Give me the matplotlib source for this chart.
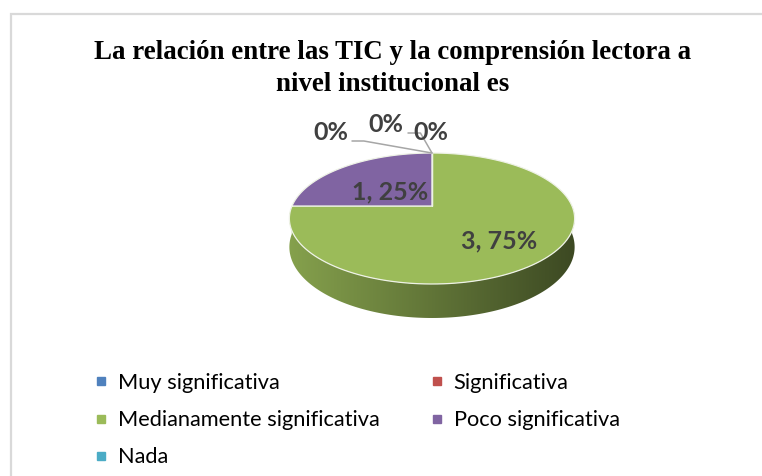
import numpy as np
import matplotlib
matplotlib.use("Agg")
import matplotlib.pyplot as plt
import matplotlib.transforms as mtransforms
from matplotlib.path import Path
from matplotlib.patches import Polygon
from matplotlib.lines import Line2D

# ---------------- data ----------------
categories = ["Muy significativa", "Significativa", "Medianamente significativa",
              "Poco significativa", "Nada"]
values = [0, 0, 3, 1, 0]
colors = ["#4F81BD", "#C0504D", "#9BBB59", "#8064A2", "#4BACC6"]
title = "La relación entre las TIC y la comprensión lectora a\nnivel institucional es"

# ---------------- layout ----------------
W, H = 762, 476
CX, CY = 432, 206          # pie apex in pixels
RX, RY = 140, 63.1         # projected radii
K = 0.191                  # perspective factor
DEPTH = 27.5               # thickness of the pie
label_r = [0, 0, 0.62, 0.45, 0]
label_dy = 5
zero_label_pos = [(331, 132), (386, 125), None, None, (431, 132)]


class Persp(mtransforms.Transform):
    input_dims = 2
    output_dims = 2
    is_separable = False
    has_inverse = False

    def __init__(self, drop=0.0):
        super().__init__()
        self.drop = drop

    def transform_non_affine(self, xy):
        xy = np.asarray(xy, float).reshape(-1, 2)
        u, v = xy[:, 0], xy[:, 1]
        d = 1 + K * v
        return np.column_stack([CX + RX * u / d, CY - RY * v / d + self.drop / d])

    def transform_path_non_affine(self, path):
        s = 1000.0
        polys = path.to_polygons(transform=mtransforms.Affine2D().scale(s),
                                 closed_only=False)
        verts, codes = [], []
        for p in polys:
            p = np.asarray(p) / s
            if len(p) == 0:
                continue
            verts.append(self.transform_non_affine(p))
            c = np.full(len(p), Path.LINETO, dtype=Path.code_type)
            c[0] = Path.MOVETO
            codes.append(c)
        if not verts:
            return Path(np.zeros((1, 2)))
        return Path(np.concatenate(verts), np.concatenate(codes))


fig = plt.figure(figsize=(W / 100, H / 100), dpi=100)
ax = fig.add_axes([0, 0, 1, 1])

wedges, _ = ax.pie(values, colors=colors, startangle=90, counterclock=False,
                   radius=1, center=(0, 0),
                   wedgeprops=dict(edgecolor="#eef2e6", linewidth=0.9))
for w in wedges:
    w.set_transform(Persp() + ax.transData)
    w.set_zorder(4)

# ---------------- 3D side walls ----------------
top_p = Persp(0.0)
bot_p = Persp(DEPTH)
for w, col in zip(wedges, colors):
    phi = np.linspace(w.theta1, w.theta2, 600)
    mask = np.sin(np.radians(phi)) <= 1e-9
    if mask.sum() < 3:
        continue
    idx = np.where(mask)[0]
    splits = np.split(idx, np.where(np.diff(idx) > 1)[0] + 1)
    for seg in splits:
        if len(seg) < 3:
            continue
        a = np.radians(phi[seg])
        pts = np.column_stack([np.cos(a), np.sin(a)])
        top = top_p.transform(pts)
        bot = bot_p.transform(pts)
        poly = np.vstack([top, bot[::-1]])
        patch = Polygon(poly, closed=True, facecolor="none", edgecolor="none",
                        transform=ax.transData, zorder=2)
        ax.add_patch(patch)
        x0, x1 = poly[:, 0].min(), poly[:, 0].max()
        y0, y1 = poly[:, 1].min(), poly[:, 1].max()
        xs = np.linspace(x0, x1, 300)
        full0, full1 = CX - RX * 1.02, CX + RX * 1.02
        f = 0.86 - 0.47 * (xs - full0) / (full1 - full0)
        base = np.array(matplotlib.colors.to_rgb(col))
        grad = np.clip(base[None, :] * f[:, None], 0, 1)[None, :, :]
        im = ax.imshow(grad, extent=[x0, x1, y1, y0], aspect="auto",
                       zorder=2, interpolation="bilinear")
        im.set_clip_path(patch)

# ---------------- labels ----------------
total = sum(values)
lab_font = dict(family=["Lato", "DejaVu Sans"], fontweight="bold", fontsize=18,
                color="#404040")
apex_top = top_p.transform([[0, 1]])[0]
for i, (w, v) in enumerate(zip(wedges, values)):
    pct = 100 * v / total
    if v > 0:
        mid = np.radians((w.theta1 + w.theta2) / 2)
        r = label_r[i]
        x, y = top_p.transform([[r * np.cos(mid), r * np.sin(mid)]])[0]
        ax.text(x, y + label_dy, f"{v}, {pct:.0f}%", ha="center", va="center",
                zorder=6, **lab_font)
    else:
        tx, ty = zero_label_pos[i]
        ax.text(tx, ty, f"{pct:.0f}%", ha="center", va="center", zorder=6,
                **lab_font)

# leader lines for the zero labels
ax.annotate("", xy=apex_top, xytext=(352, 141),
            arrowprops=dict(arrowstyle="-", color="#a6a6a6", lw=1.1,
                            connectionstyle="angle,angleA=0,angleB=-10,rad=0",
                            shrinkA=0, shrinkB=0), zorder=5)
ax.annotate("", xy=apex_top, xytext=(408, 133),
            arrowprops=dict(arrowstyle="-", color="#a6a6a6", lw=1.1,
                            connectionstyle="angle,angleA=0,angleB=-60,rad=0",
                            shrinkA=0, shrinkB=0), zorder=5)

# ---------------- title ----------------
ax.text(393, 68.5, title, ha="center", va="center", multialignment="center",
        family="Liberation Serif", fontweight="bold", fontsize=19.4,
        linespacing=1.36, color="black", zorder=6)

# ---------------- border ----------------
ax.plot([10.5, 10.5, W + 5], [H + 5, 13.5, 13.5], color="#d9d9d9", lw=1.6,
        clip_on=False, zorder=1, solid_joinstyle="miter")

# ---------------- legend ----------------
order = [0, 2, 4, 1, 3]
handles = [Line2D([], [], marker="s", ls="", color=colors[i], markersize=5.5)
           for i in order]
labels = [categories[i] for i in order]
fig.legend(handles, labels, ncol=2, loc="upper left",
           bbox_to_anchor=(96 / W, 1 - 373 / H), frameon=False,
           prop=dict(family=["Lato", "DejaVu Sans"], size=15.7),
           handlelength=0.5, handletextpad=0.5, columnspacing=2.4,
           labelspacing=0.79, borderpad=0, borderaxespad=0)

ax.set_xlim(0, W)
ax.set_ylim(H, 0)
ax.set_aspect("auto")
ax.axis("off")

fig.savefig("out.png", dpi=100)
